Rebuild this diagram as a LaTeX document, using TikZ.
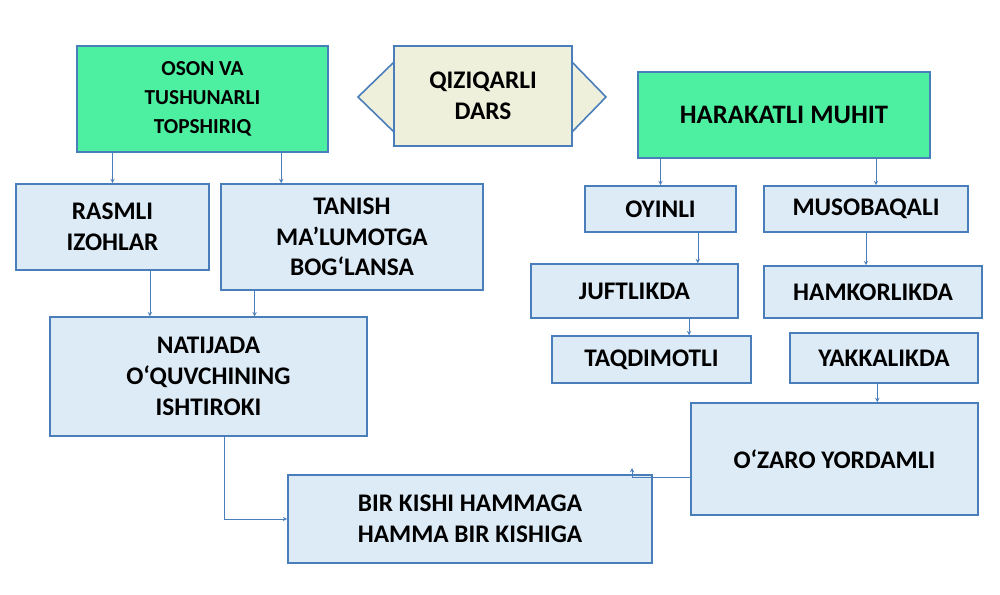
\documentclass[tikz,border=0pt]{standalone}
\usepackage{fontspec}
\setmainfont{Carlito}
\usetikzlibrary{positioning}
\definecolor{boxblue}{HTML}{DDEBF6}
\definecolor{edgeblue}{HTML}{4A7EBB}
\definecolor{boxgreen}{HTML}{4DF0A1}
\definecolor{boxbeige}{HTML}{EEF0DC}
\tikzset{
  bluebox/.style={draw=edgeblue,line width=1.2pt,fill=boxblue,align=center,
    font=\bfseries\fontsize{19}{23}\selectfont,inner sep=0pt},
  greenbox/.style={bluebox,fill=boxgreen},
  link/.style={draw=edgeblue,line width=0.5pt,->,>=stealth}
}
\begin{document}
\begin{tikzpicture}[x=0.75pt,y=0.75pt,yscale=-1,xscale=1]
\useasboundingbox (0,0) rectangle (1000,595);

% double arrow behind the title box
\draw[edgeblue,line width=1.2pt,fill=boxbeige] (358,97) -- (394,62) -- (394,80) -- (572,80) -- (572,62)
  -- (606,97) -- (572,132) -- (572,115) -- (394,115) -- (394,132) -- cycle;
\node[bluebox,fill=boxbeige,minimum width=133.5pt,minimum height=75pt] (dars) at (483,96) {QIZIQARLI\\DARS};

% green heads
\node[greenbox,minimum width=188pt,minimum height=79.5pt,font=\bfseries\fontsize{16}{22}\selectfont] (oson) at (202.5,99) {OSON VA\\TUSHUNARLI\\TOPSHIRIQ};
\node[greenbox,minimum width=219pt,minimum height=64.5pt,font=\bfseries\fontsize{20}{24}\selectfont] (muhit) at (784,115) {HARAKATLI MUHIT};

% left side
\node[bluebox,minimum width=145pt,minimum height=64.5pt] (rasmli) at (112.5,227) {RASMLI\\IZOHLAR};
\node[bluebox,minimum width=196.5pt,minimum height=79.5pt] (tanish) at (352,237) {TANISH\\MA’LUMOTGA\\BOG‘LANSA};
\node[bluebox,minimum width=238pt,minimum height=89pt] (natija) at (208.5,376.5) {NATIJADA\\O‘QUVCHINING\\ISHTIROKI};
\node[bluebox,minimum width=273pt,minimum height=66pt] (bir) at (470,519) {BIR KISHI HAMMAGA\\HAMMA BIR KISHIGA};

% right side
\node[bluebox,minimum width=113pt,minimum height=34.5pt] (oyin) at (660.5,209) {OYINLI};
\node[bluebox,minimum width=153pt,minimum height=34.5pt] (musob) at (866,209) {MUSOBAQALI};
\node[bluebox,minimum width=155pt,minimum height=40.5pt] (juft) at (634.5,291) {JUFTLIKDA};
\node[bluebox,minimum width=163.5pt,minimum height=39pt] (hamkor) at (873,292) {HAMKORLIKDA};
\node[bluebox,minimum width=149pt,minimum height=35pt] (taqdim) at (651.5,359.5) {TAQDIMOTLI};
\node[bluebox,minimum width=141pt,minimum height=37.5pt] (yakka) at (884,358) {YAKKALIKDA};
\node[bluebox,minimum width=215pt,minimum height=84pt] (ozaro) at (834.5,459) {O‘ZARO YORDAMLI};

% connectors
\draw[link] (oson.south -| rasmli) -- (rasmli);
\draw[link] ([xshift=59pt]oson.south) -- ([xshift=59pt]oson.south |- tanish.north);
\draw[link] (muhit.south -| oyin) -- (oyin);
\draw[link] ([xshift=69pt]muhit.south) -- ([xshift=69pt]muhit.south |- musob.north);
\draw[link] ([xshift=28pt]oyin.south) -- ([xshift=28pt]oyin.south |- juft.north);
\draw[link] ([xshift=41pt]juft.south) -- ([xshift=41pt]juft.south |- taqdim.north);
\draw[link] (musob.south) -- (hamkor.north -| musob);
\draw[link] ([xshift=-5pt]yakka.south) -- ([xshift=-5pt]yakka.south |- ozaro.north);
\draw[link] ([xshift=28pt]rasmli.south) -- ([xshift=28pt]rasmli.south |- natija.north);
\draw[link] ([xshift=-73pt]tanish.south) -- ([xshift=-73pt]tanish.south |- natija.north);
\draw[link] ([xshift=12pt]natija.south) |- (bir.west);
\coordinate (ozend) at (632,468);
\draw[link] ([yshift=14pt]ozaro.west) -| (ozend);
\end{tikzpicture}
\end{document}
